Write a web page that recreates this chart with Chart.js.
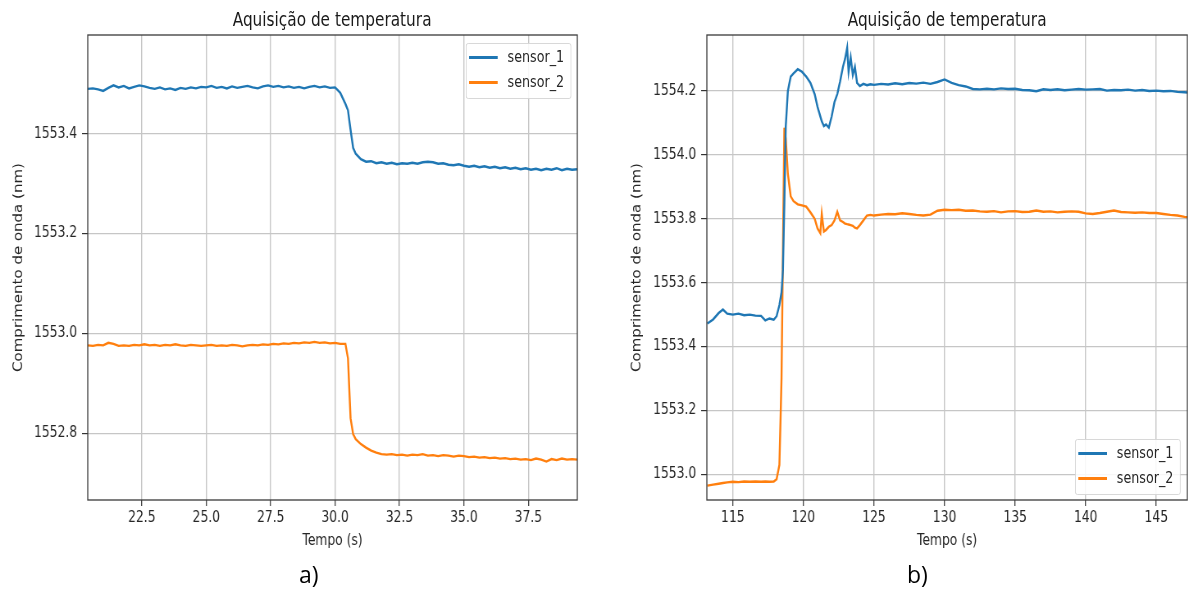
<!DOCTYPE html>
<html>
<head>
<meta charset="utf-8">
<script src="https://cdn.jsdelivr.net/npm/chart.js@4.4.0/dist/chart.umd.min.js"></script>
<style>
  html, body { margin: 0; padding: 0; background: #fff; }
  body { width: 1188px; height: 595px; position: relative; overflow: hidden; font-family: "DejaVu Sans", sans-serif; }
  /* matplotlib figure was squeezed horizontally in the source image */
  #stage { position: absolute; left: 0; top: 0; width: 1449px; height: 595px; transform: scaleX(0.82); transform-origin: 0 0; }
  .wrap { position: absolute; top: 0; height: 595px; }
  .title { position: absolute; top: 10px; font-size: 18.7px; line-height: 19px; color: #1a1a1a; white-space: nowrap; transform: translateX(-50%); }
  .legend { position: absolute; width: 127px; height: 54px; border: 1px solid #d4d4d4; border-radius: 3px; background: rgba(255,255,255,0.85); }
  .legend .row { position: absolute; left: 0; height: 25px; width: 127px; }
  .legend .swatch { position: absolute; left: 3px; top: 11px; width: 35px; height: 2.5px; }
  .legend .lbl { position: absolute; left: 50px; top: 3px; font-size: 15.5px; line-height: 18px; color: #262626; }
  .sub { position: absolute; font-family: "Open Sans", sans-serif; font-size: 23px; color: #000; }
</style>
</head>
<body>
<div id="stage">
  <div class="wrap" style="left:0; width:724px;"><canvas id="chartA" width="724" height="595"></canvas></div>
  <div class="wrap" style="left:724px; width:725px;"><canvas id="chartB" width="725" height="595"></canvas></div>
  <div class="title" style="left:405px;">Aquisição de temperatura</div>
  <div class="title" style="left:1155px;">Aquisição de temperatura</div>
  <div class="legend" style="left:568px; top:43px;">
    <div class="row" style="top:1px;"><span class="swatch" style="background:#1f77b4"></span><span class="lbl">sensor_1</span></div>
    <div class="row" style="top:26px;"><span class="swatch" style="background:#ff7f0e"></span><span class="lbl">sensor_2</span></div>
  </div>
  <div class="legend" style="left:1311px; top:439px;">
    <div class="row" style="top:1px;"><span class="swatch" style="background:#1f77b4"></span><span class="lbl">sensor_1</span></div>
    <div class="row" style="top:26px;"><span class="swatch" style="background:#ff7f0e"></span><span class="lbl">sensor_2</span></div>
  </div>
</div>
<div class="sub" style="left:299px; top:558px;">a)</div>
<div class="sub" style="left:907px; top:558px;">b)</div>

<script>
//---- data ----
// a) left plot
var leftTime = [20.4, 20.6, 20.8, 21.0, 21.2, 21.4, 21.6, 21.8, 22.0, 22.2, 22.4, 22.6, 22.8, 23.0, 23.2, 23.4,
    23.6, 23.8, 24.0, 24.2, 24.4, 24.6, 24.8, 25.0, 25.2, 25.4, 25.6, 25.8, 26.0, 26.2, 26.4, 26.6, 26.8, 27.0,
    27.2, 27.4, 27.6, 27.8, 28.0, 28.2, 28.4, 28.6, 28.8, 29.0, 29.2, 29.4, 29.6, 29.8, 30.0, 30.2, 30.4, 30.5,
    30.6, 30.7, 30.8, 31.0, 31.2, 31.4, 31.6, 31.8, 32.0, 32.2, 32.4, 32.6, 32.8, 33.0, 33.2, 33.4, 33.6, 33.8,
    34.0, 34.2, 34.4, 34.6, 34.8, 35.0, 35.2, 35.4, 35.6, 35.8, 36.0, 36.2, 36.4, 36.6, 36.8, 37.0, 37.2, 37.4,
    37.6, 37.8, 38.0, 38.2, 38.4, 38.6, 38.8, 39.0, 39.2, 39.4];
var leftSensor1 = [1553.490, 1553.491, 1553.489, 1553.486, 1553.492, 1553.497, 1553.493, 1553.496, 1553.491,
    1553.494, 1553.497, 1553.495, 1553.492, 1553.490, 1553.493, 1553.489, 1553.491, 1553.488, 1553.492, 1553.490,
    1553.493, 1553.491, 1553.494, 1553.493, 1553.496, 1553.492, 1553.494, 1553.491, 1553.495, 1553.492, 1553.494,
    1553.496, 1553.493, 1553.491, 1553.495, 1553.497, 1553.494, 1553.496, 1553.493, 1553.495, 1553.492, 1553.494,
    1553.491, 1553.494, 1553.496, 1553.493, 1553.495, 1553.492, 1553.493, 1553.482, 1553.460, 1553.447,
    1553.408, 1553.372, 1553.360, 1553.349, 1553.344, 1553.345, 1553.341, 1553.343, 1553.340, 1553.342, 1553.339,
    1553.341, 1553.340, 1553.342, 1553.340, 1553.343, 1553.344, 1553.343, 1553.340, 1553.341, 1553.338, 1553.337,
    1553.339, 1553.336, 1553.334, 1553.336, 1553.333, 1553.335, 1553.332, 1553.334, 1553.331, 1553.333, 1553.330,
    1553.332, 1553.329, 1553.331, 1553.328, 1553.330, 1553.327, 1553.330, 1553.328, 1553.331, 1553.327, 1553.330,
    1553.328, 1553.329];
var leftSensor2 = [1552.976, 1552.975, 1552.977, 1552.976, 1552.981, 1552.979, 1552.975, 1552.976, 1552.975,
    1552.977, 1552.976, 1552.978, 1552.976, 1552.977, 1552.975, 1552.977, 1552.976, 1552.978, 1552.976, 1552.975,
    1552.977, 1552.976, 1552.975, 1552.976, 1552.977, 1552.975, 1552.976, 1552.975, 1552.977, 1552.976, 1552.974,
    1552.976, 1552.977, 1552.976, 1552.978, 1552.977, 1552.979, 1552.978, 1552.980, 1552.979, 1552.981, 1552.980,
    1552.982, 1552.981, 1552.983, 1552.981, 1552.982, 1552.980, 1552.981, 1552.979, 1552.979, 1552.950,
    1552.830, 1552.798, 1552.788, 1552.778, 1552.771, 1552.765, 1552.761, 1552.758, 1552.757, 1552.758, 1552.756,
    1552.757, 1552.755, 1552.757, 1552.756, 1552.758, 1552.755, 1552.756, 1552.754, 1552.756, 1552.755, 1552.753,
    1552.755, 1552.754, 1552.752, 1552.753, 1552.751, 1552.752, 1552.750, 1552.751, 1552.749, 1552.750, 1552.748,
    1552.749, 1552.747, 1552.748, 1552.746, 1552.749, 1552.747, 1552.743, 1552.748, 1552.746, 1552.749, 1552.747,
    1552.748, 1552.747];
var leftXTicks = [22.5, 25.0, 27.5, 30.0, 32.5, 35.0, 37.5];
var leftYTicks = [1552.8, 1553.0, 1553.2, 1553.4];

// b) right plot
var rightTime = [113.2, 113.6, 114.0, 114.3, 114.6, 115.0, 115.4, 115.8, 116.2, 116.6, 117.0, 117.3, 117.6,
    117.9, 118.1, 118.3, 118.45, 118.55, 118.65, 118.75, 118.9, 119.1, 119.3, 119.6, 119.9, 120.2, 120.5, 120.8,
    121.0, 121.2, 121.3, 121.45, 121.6, 121.8, 122.0, 122.2, 122.4, 122.6, 122.8, 122.95, 123.1, 123.2, 123.35,
    123.5, 123.65, 123.8, 124.0, 124.25, 124.5, 124.75, 125.0, 125.5, 126.0, 126.5, 127.0, 127.5, 128.0, 128.5,
    129.0, 129.5, 130.0, 130.5, 131.0, 131.5, 132.0, 132.5, 133.0, 133.5, 134.0, 134.5, 135.0, 135.5, 136.0,
    136.5, 137.0, 137.5, 138.0, 138.5, 139.0, 139.5, 140.0, 140.5, 141.0, 141.5, 142.0, 142.5, 143.0, 143.5,
    144.0, 144.5, 145.0, 145.5, 146.0, 146.5, 147.0, 147.2];
var rightSensor1 = [1553.472, 1553.485, 1553.505, 1553.516, 1553.503, 1553.500, 1553.503, 1553.498, 1553.500,
    1553.497, 1553.496, 1553.482, 1553.488, 1553.484, 1553.495, 1553.530, 1553.570, 1553.640, 1553.850, 1554.090,
    1554.200, 1554.245, 1554.255, 1554.268, 1554.260, 1554.245, 1554.225, 1554.190, 1554.150, 1554.120, 1554.105,
    1554.090, 1554.095, 1554.085, 1554.120, 1554.165, 1554.190, 1554.230, 1554.275, 1554.300, 1554.335, 1554.260,
    1554.305, 1554.250, 1554.275, 1554.225, 1554.215, 1554.222, 1554.218, 1554.221, 1554.219, 1554.222, 1554.220,
    1554.224, 1554.221, 1554.225, 1554.223, 1554.226, 1554.222, 1554.228, 1554.236, 1554.225, 1554.218, 1554.214,
    1554.206, 1554.205, 1554.207, 1554.205, 1554.208, 1554.206, 1554.207, 1554.203, 1554.202, 1554.199, 1554.205,
    1554.203, 1554.205, 1554.202, 1554.204, 1554.206, 1554.204, 1554.205, 1554.206, 1554.201, 1554.203, 1554.202,
    1554.204, 1554.201, 1554.203, 1554.200, 1554.201, 1554.199, 1554.200, 1554.197, 1554.196, 1554.195];
var rightSensor2 = [1552.965, 1552.968, 1552.971, 1552.973, 1552.975, 1552.977, 1552.976, 1552.978, 1552.977,
    1552.978, 1552.977, 1552.978, 1552.977, 1552.978, 1552.985, 1553.030, 1553.300, 1553.700, 1554.085, 1554.050,
    1553.940, 1553.870, 1553.855, 1553.845, 1553.842, 1553.838, 1553.820, 1553.800, 1553.770, 1553.755, 1553.815,
    1553.760, 1553.765, 1553.775, 1553.780, 1553.795, 1553.822, 1553.795, 1553.790, 1553.785, 1553.783, 1553.782,
    1553.780, 1553.778, 1553.772, 1553.770, 1553.780, 1553.795, 1553.810, 1553.812, 1553.810, 1553.813, 1553.815,
    1553.814, 1553.817, 1553.815, 1553.812, 1553.810, 1553.813, 1553.825, 1553.828, 1553.827, 1553.828, 1553.825,
    1553.826, 1553.823, 1553.822, 1553.824, 1553.820, 1553.823, 1553.824, 1553.821, 1553.822, 1553.826, 1553.822,
    1553.823, 1553.820, 1553.822, 1553.823, 1553.822, 1553.817, 1553.815, 1553.818, 1553.822, 1553.826, 1553.821,
    1553.820, 1553.819, 1553.820, 1553.818, 1553.818, 1553.815, 1553.812, 1553.810, 1553.806, 1553.805];
var rightXTicks = [115, 120, 125, 130, 135, 140, 145];
var rightYTicks = [1553.0, 1553.2, 1553.4, 1553.6, 1553.8, 1554.0, 1554.2];

Chart.defaults.font.family = "'DejaVu Sans', sans-serif";
Chart.defaults.font.size = 15;
Chart.defaults.color = "#262626";

function toPoints(t, v) {
    return t.map(function (x, i) { return {x: x, y: v[i]}; });
}

// matplotlib draws the full box around the axes
var framePlugin = {
    id: "frame",
    afterDraw: function (chart) {
        var a = chart.chartArea;
        var ctx = chart.ctx;
        ctx.save();
        ctx.strokeStyle = "#3a3a3a";
        ctx.lineWidth = 1.3;
        ctx.strokeRect(a.left, a.top, a.right - a.left, a.bottom - a.top);
        ctx.restore();
    }
};

function makeChart(id, opt) {
    return new Chart(document.getElementById(id), {
        type: "line",
        data: {
            datasets: [
                {label: "sensor_1", data: toPoints(opt.time, opt.s1), borderColor: "#1f77b4", borderWidth: 2.4, pointRadius: 0, tension: 0},
                {label: "sensor_2", data: toPoints(opt.time, opt.s2), borderColor: "#ff7f0e", borderWidth: 2.4, pointRadius: 0, tension: 0}
            ]
        },
        options: {
            responsive: false,
            animation: false,
            devicePixelRatio: 1,
            layout: {padding: {left: 0, right: opt.padRight, top: 35, bottom: 0}},
            plugins: {legend: {display: false}, title: {display: false}, tooltip: {enabled: false}},
            scales: {
                x: {
                    type: "linear",
                    min: opt.xMin,
                    max: opt.xMax,
                    afterFit: function (s) { s.height = 95; },
                    afterBuildTicks: function (s) { s.ticks = opt.xTicks.map(function (v) { return {value: v}; }); },
                    ticks: {autoSkip: false, maxRotation: 0, padding: 3, callback: function (v) { return v.toFixed(opt.xDec); }},
                    grid: {color: "#c6c6c6", lineWidth: 1.4, tickColor: "#333", tickLength: 6, tickWidth: 1.2},
                    border: {display: false},
                    title: {display: true, text: "Tempo (s)", font: {size: 15}, padding: {top: 0, bottom: 45}}
                },
                y: {
                    min: opt.yMin,
                    max: opt.yMax,
                    afterFit: function (s) { s.width = opt.yWidth; },
                    afterBuildTicks: function (s) { s.ticks = opt.yTicks.map(function (v) { return {value: v}; }); },
                    ticks: {autoSkip: false, padding: 6, callback: function (v) { return v.toFixed(1); }},
                    grid: {color: "#c6c6c6", lineWidth: 1.2, tickColor: "#333", tickLength: 7, tickWidth: 1.2},
                    border: {display: false},
                    title: {display: true, text: "Comprimento de onda (nm)", font: {size: 15}, padding: {top: opt.yTitlePad, bottom: 0}}
                }
            }
        },
        plugins: [framePlugin]
    });
}

var chartA = makeChart("chartA", {
    time: leftTime, s1: leftSensor1, s2: leftSensor2,
    xMin: 20.4, xMax: 39.4, yMin: 1552.666, yMax: 1553.598,
    xTicks: leftXTicks, yTicks: leftYTicks, xDec: 1,
    yWidth: 107, padRight: 20, yTitlePad: 14
});

var chartB = makeChart("chartB", {
    time: rightTime, s1: rightSensor1, s2: rightSensor2,
    xMin: 113.16, xMax: 147.2, yMin: 1552.92, yMax: 1554.375,
    xTicks: rightXTicks, yTicks: rightYTicks, xDec: 0,
    yWidth: 138, padRight: 1, yTitlePad: 44
});
</script>
</body>
</html>
